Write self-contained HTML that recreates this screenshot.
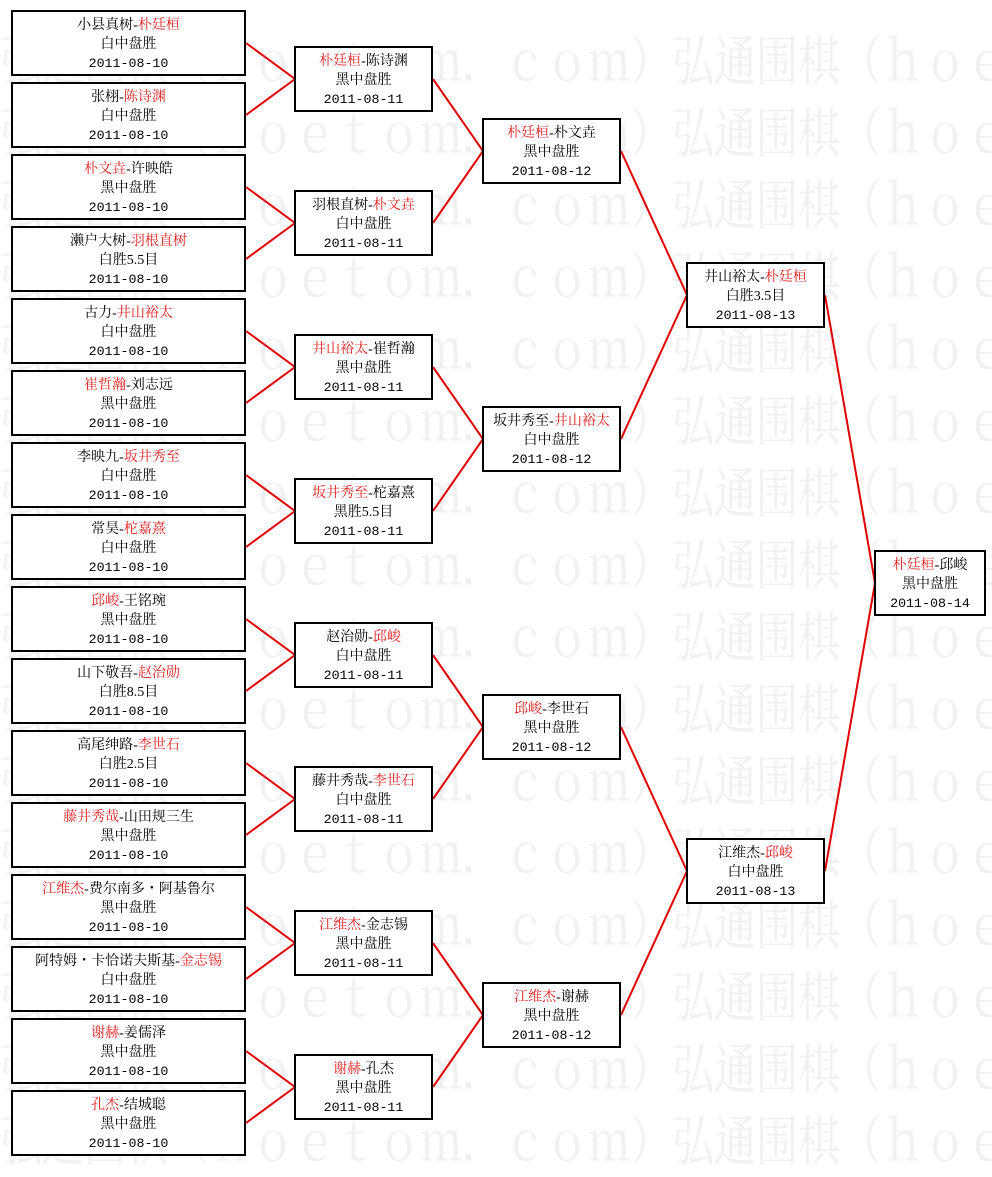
<!DOCTYPE html>
<html><head><meta charset="utf-8"><style>
body{margin:0;width:992px;height:1165px;background:#fff;position:relative;overflow:hidden;font-family:"Liberation Serif","Noto Serif CJK SC",serif;}
.wm{position:absolute;left:0;font-size:42px;line-height:56px;color:#f1f1f1;white-space:nowrap;font-family:"Noto Serif CJK SC",serif;transform:scaleY(1.3);transform-origin:0 0;}
.b{position:absolute;box-sizing:border-box;border:2px solid #000;background:#fff;text-align:center;font-size:14px;line-height:19px;padding-top:4px;color:#000;white-space:nowrap;height:66px;}
.b br+br+span,.d{font-family:"Liberation Mono",monospace;font-size:13.3px;}
.c1{left:11px;width:235px}.c2{left:294px;width:139px}.c3{left:482px;width:139px}.c4{left:686px;width:139px}.c5{left:874px;width:112px}
.r{color:#e02020}
svg{position:absolute;left:0;top:0}
</style></head><body>
<div class="wm" style="top:22px">弘通围棋（ｈｏｅｔｏｍ．ｃｏｍ）弘通围棋（ｈｏｅｔｏｍ．ｃｏｍ）</div>
<div class="wm" style="top:94px">弘通围棋（ｈｏｅｔｏｍ．ｃｏｍ）弘通围棋（ｈｏｅｔｏｍ．ｃｏｍ）</div>
<div class="wm" style="top:166px">弘通围棋（ｈｏｅｔｏｍ．ｃｏｍ）弘通围棋（ｈｏｅｔｏｍ．ｃｏｍ）</div>
<div class="wm" style="top:238px">弘通围棋（ｈｏｅｔｏｍ．ｃｏｍ）弘通围棋（ｈｏｅｔｏｍ．ｃｏｍ）</div>
<div class="wm" style="top:310px">弘通围棋（ｈｏｅｔｏｍ．ｃｏｍ）弘通围棋（ｈｏｅｔｏｍ．ｃｏｍ）</div>
<div class="wm" style="top:382px">弘通围棋（ｈｏｅｔｏｍ．ｃｏｍ）弘通围棋（ｈｏｅｔｏｍ．ｃｏｍ）</div>
<div class="wm" style="top:454px">弘通围棋（ｈｏｅｔｏｍ．ｃｏｍ）弘通围棋（ｈｏｅｔｏｍ．ｃｏｍ）</div>
<div class="wm" style="top:526px">弘通围棋（ｈｏｅｔｏｍ．ｃｏｍ）弘通围棋（ｈｏｅｔｏｍ．ｃｏｍ）</div>
<div class="wm" style="top:598px">弘通围棋（ｈｏｅｔｏｍ．ｃｏｍ）弘通围棋（ｈｏｅｔｏｍ．ｃｏｍ）</div>
<div class="wm" style="top:670px">弘通围棋（ｈｏｅｔｏｍ．ｃｏｍ）弘通围棋（ｈｏｅｔｏｍ．ｃｏｍ）</div>
<div class="wm" style="top:742px">弘通围棋（ｈｏｅｔｏｍ．ｃｏｍ）弘通围棋（ｈｏｅｔｏｍ．ｃｏｍ）</div>
<div class="wm" style="top:814px">弘通围棋（ｈｏｅｔｏｍ．ｃｏｍ）弘通围棋（ｈｏｅｔｏｍ．ｃｏｍ）</div>
<div class="wm" style="top:886px">弘通围棋（ｈｏｅｔｏｍ．ｃｏｍ）弘通围棋（ｈｏｅｔｏｍ．ｃｏｍ）</div>
<div class="wm" style="top:958px">弘通围棋（ｈｏｅｔｏｍ．ｃｏｍ）弘通围棋（ｈｏｅｔｏｍ．ｃｏｍ）</div>
<div class="wm" style="top:1030px">弘通围棋（ｈｏｅｔｏｍ．ｃｏｍ）弘通围棋（ｈｏｅｔｏｍ．ｃｏｍ）</div>
<div class="wm" style="top:1102px">弘通围棋（ｈｏｅｔｏｍ．ｃｏｍ）弘通围棋（ｈｏｅｔｏｍ．ｃｏｍ）</div>

<svg width="992" height="1165"><g stroke="#e00000" stroke-width="2" fill="none">
<path d="M246 43L295 79L246 115M246 187L295 223L246 259M246 331L295 367L246 403M246 475L295 511L246 547M246 619L295 655L246 691M246 763L295 799L246 835M246 907L295 943L246 979M246 1051L295 1087L246 1123"/>
<path d="M433 79L483 151L433 223M433 367L483 439L433 511M433 655L483 727L433 799M433 943L483 1015L433 1087"/>
<path d="M621 151L687 295L621 439M621 727L687 871L621 1015"/>
<path d="M825 295L875 583L825 871"/>
</g></svg>

<div class="b c1" style="top:10px">小县真树-<span class="r">朴廷桓</span><br>白中盘胜<br><span class="d">2011-08-10</span></div>
<div class="b c1" style="top:82px">张栩-<span class="r">陈诗渊</span><br>白中盘胜<br><span class="d">2011-08-10</span></div>
<div class="b c1" style="top:154px"><span class="r">朴文垚</span>-许映皓<br>黑中盘胜<br><span class="d">2011-08-10</span></div>
<div class="b c1" style="top:226px">濑户大树-<span class="r">羽根直树</span><br>白胜5.5目<br><span class="d">2011-08-10</span></div>
<div class="b c1" style="top:298px">古力-<span class="r">井山裕太</span><br>白中盘胜<br><span class="d">2011-08-10</span></div>
<div class="b c1" style="top:370px"><span class="r">崔哲瀚</span>-刘志远<br>黑中盘胜<br><span class="d">2011-08-10</span></div>
<div class="b c1" style="top:442px">李映九-<span class="r">坂井秀至</span><br>白中盘胜<br><span class="d">2011-08-10</span></div>
<div class="b c1" style="top:514px">常昊-<span class="r">柁嘉熹</span><br>白中盘胜<br><span class="d">2011-08-10</span></div>
<div class="b c1" style="top:586px"><span class="r">邱峻</span>-王铭琬<br>黑中盘胜<br><span class="d">2011-08-10</span></div>
<div class="b c1" style="top:658px">山下敬吾-<span class="r">赵治勋</span><br>白胜8.5目<br><span class="d">2011-08-10</span></div>
<div class="b c1" style="top:730px">高尾绅路-<span class="r">李世石</span><br>白胜2.5目<br><span class="d">2011-08-10</span></div>
<div class="b c1" style="top:802px"><span class="r">藤井秀哉</span>-山田规三生<br>黑中盘胜<br><span class="d">2011-08-10</span></div>
<div class="b c1" style="top:874px"><span class="r">江维杰</span>-费尔南多・阿基鲁尔<br>黑中盘胜<br><span class="d">2011-08-10</span></div>
<div class="b c1" style="top:946px">阿特姆・卡恰诺夫斯基-<span class="r">金志锡</span><br>白中盘胜<br><span class="d">2011-08-10</span></div>
<div class="b c1" style="top:1018px"><span class="r">谢赫</span>-姜儒泽<br>黑中盘胜<br><span class="d">2011-08-10</span></div>
<div class="b c1" style="top:1090px"><span class="r">孔杰</span>-结城聪<br>黑中盘胜<br><span class="d">2011-08-10</span></div>

<div class="b c2" style="top:46px"><span class="r">朴廷桓</span>-陈诗渊<br>黑中盘胜<br><span class="d">2011-08-11</span></div>
<div class="b c2" style="top:190px">羽根直树-<span class="r">朴文垚</span><br>白中盘胜<br><span class="d">2011-08-11</span></div>
<div class="b c2" style="top:334px"><span class="r">井山裕太</span>-崔哲瀚<br>黑中盘胜<br><span class="d">2011-08-11</span></div>
<div class="b c2" style="top:478px"><span class="r">坂井秀至</span>-柁嘉熹<br>黑胜5.5目<br><span class="d">2011-08-11</span></div>
<div class="b c2" style="top:622px">赵治勋-<span class="r">邱峻</span><br>白中盘胜<br><span class="d">2011-08-11</span></div>
<div class="b c2" style="top:766px">藤井秀哉-<span class="r">李世石</span><br>白中盘胜<br><span class="d">2011-08-11</span></div>
<div class="b c2" style="top:910px"><span class="r">江维杰</span>-金志锡<br>黑中盘胜<br><span class="d">2011-08-11</span></div>
<div class="b c2" style="top:1054px"><span class="r">谢赫</span>-孔杰<br>黑中盘胜<br><span class="d">2011-08-11</span></div>

<div class="b c3" style="top:118px"><span class="r">朴廷桓</span>-朴文垚<br>黑中盘胜<br><span class="d">2011-08-12</span></div>
<div class="b c3" style="top:406px">坂井秀至-<span class="r">井山裕太</span><br>白中盘胜<br><span class="d">2011-08-12</span></div>
<div class="b c3" style="top:694px"><span class="r">邱峻</span>-李世石<br>黑中盘胜<br><span class="d">2011-08-12</span></div>
<div class="b c3" style="top:982px"><span class="r">江维杰</span>-谢赫<br>黑中盘胜<br><span class="d">2011-08-12</span></div>

<div class="b c4" style="top:262px">井山裕太-<span class="r">朴廷桓</span><br>白胜3.5目<br><span class="d">2011-08-13</span></div>
<div class="b c4" style="top:838px">江维杰-<span class="r">邱峻</span><br>白中盘胜<br><span class="d">2011-08-13</span></div>

<div class="b c5" style="top:550px"><span class="r">朴廷桓</span>-邱峻<br>黑中盘胜<br><span class="d">2011-08-14</span></div>
</body></html>
